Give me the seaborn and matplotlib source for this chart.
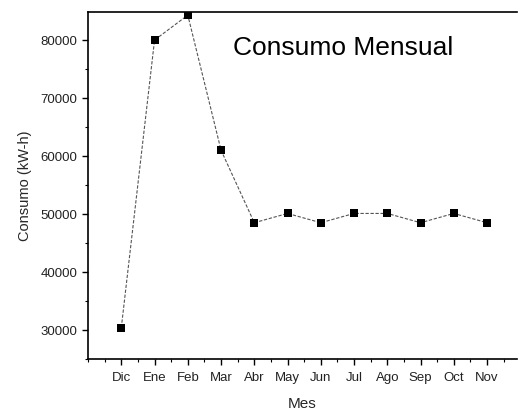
import matplotlib
matplotlib.use("Agg")
import matplotlib.pyplot as plt
from matplotlib.ticker import MultipleLocator
import seaborn as sns
import pandas as pd

meses = ["Dic", "Ene", "Feb", "Mar", "Abr", "May", "Jun", "Jul", "Ago", "Sep", "Oct", "Nov"]
consumo = [30400, 80000, 84300, 61000, 48500, 50100, 48500, 50100, 50100, 48500, 50100, 48500]
yticks = [30000, 40000, 50000, 60000, 70000, 80000]

sns.set_style("ticks")
plt.rcParams['font.family'] = ['Liberation Sans', 'DejaVu Sans']

df = pd.DataFrame({"Mes": meses, "Consumo": consumo})

fig = plt.figure(figsize=(5.18, 4.11), dpi=100)
ax = fig.add_axes([0.170, 0.1265, 0.828, 0.8445])

sns.lineplot(data=df, x="Mes", y="Consumo", ax=ax, color="#555555",
             linewidth=0.8, dashes=False, linestyle=(0, (3, 1.5)), zorder=2)
sns.scatterplot(data=df, x="Mes", y="Consumo", ax=ax, marker="s", s=36,
                color="black", edgecolor="black", linewidth=0, zorder=3)

ax.set_xlim(-1, 11.9)
ax.set_ylim(25000, 84850)
ax.set_yticks(yticks)
ax.yaxis.set_minor_locator(MultipleLocator(5000))
ax.xaxis.set_minor_locator(MultipleLocator(0.5))

for side in ["left", "bottom", "top"]:
    ax.spines[side].set_linewidth(1.2)
    ax.spines[side].set_color("black")
ax.spines["right"].set_visible(False)

ax.tick_params(axis="both", which="major", direction="out", length=4, width=1,
               labelsize=9.5, color="black", labelcolor="#222222")
ax.tick_params(axis="x", which="major", pad=5.5)
ax.tick_params(axis="both", which="minor", direction="out", length=2.5, width=0.8,
               color="black")
ax.tick_params(top=False, right=False, which="both")

ax.set_xlabel("Mes", fontsize=11, labelpad=9)
ax.set_ylabel("Consumo (kW-h)", fontsize=10.5, labelpad=6)

ax.text(0.595, 0.896, "Consumo Mensual", transform=ax.transAxes, fontsize=19,
        ha="center", va="center", color="black")

fig.savefig("out.png", dpi=100)
